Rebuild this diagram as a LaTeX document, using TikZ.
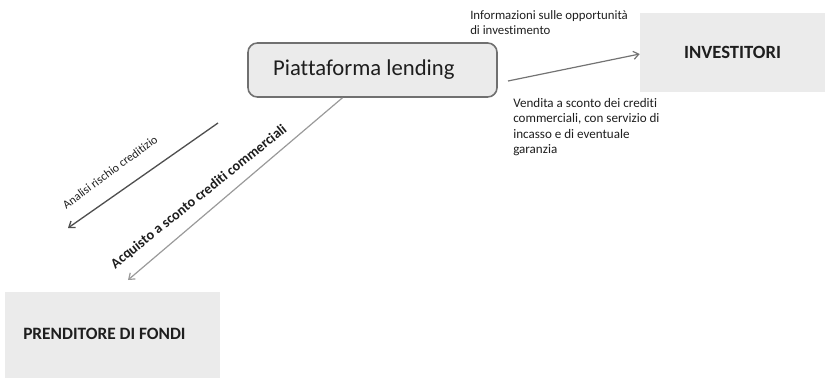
\documentclass[tikz,border=0pt]{standalone}
\usepackage{fontspec}
\setmainfont{Carlito}[Ligatures=NoCommon]
\usetikzlibrary{calc,arrows.meta}
\definecolor{boxfill}{HTML}{EBEBEB}
\definecolor{boxline}{HTML}{707070}
\definecolor{darkarrow}{HTML}{505050}
\definecolor{lightarrow}{HTML}{9A9A9A}
\definecolor{txt}{HTML}{1E1E1E}
\tikzset{
  platbox/.style={draw=boxline, line width=1.2pt, fill=boxfill, rounded corners=7pt, minimum width=186.75pt, minimum height=40.5pt, inner sep=0pt, font=\fontsize{17}{19}\selectfont, text=txt},
  flatbox/.style={fill=boxfill, draw=none, inner sep=0pt, text=txt},
  smalltxt/.style={font=\fontsize{9.6}{11.6}\selectfont, align=left, inner sep=0pt, text=txt},
  arrowdark/.style={draw=darkarrow, line width=1pt, -{Straight Barb[length=4pt,width=6pt]}},
  arrowlight/.style={draw=lightarrow, line width=0.9pt, -{Straight Barb[length=4pt,width=6pt]}},
}
\begin{document}
\begin{tikzpicture}[x=0.75pt,y=-0.75pt]
\useasboundingbox (0,0) rectangle (825,378);
% boxes
\node[platbox] (plat) at (372.5,70) {Piattaforma lending\hspace*{13pt}};
\node[flatbox, minimum width=138.75pt, minimum height=59.25pt, font=\bfseries\fontsize{14}{16}\selectfont] (inv) at (732.5,52.5) {INVESTITORI};
\node[flatbox, minimum width=161.25pt, minimum height=64.5pt] (pren) at (112.5,335) {};
\node[anchor=west, inner sep=0pt, font=\bfseries\fontsize{13}{15}\selectfont, text=txt] (prenlab) at (23,334) {PRENDITORE DI FONDI};
% coordinates
\coordinate (acqstart) at ($(plat.south west)!0.38!(plat.south east)$);
\coordinate (acqend) at (128,280);
\coordinate (anstart) at (218,123);
\coordinate (anend) at (68,228);
\coordinate (invstart) at (508,81);
% arrows
\draw[arrowlight] (acqstart) -- (acqend);
\draw[arrowdark] (anstart) -- (anend);
\draw[arrowlight, draw=darkarrow!80, line width=0.9pt] (invstart) -- (inv.west |- 0,54);
% labels
\node[smalltxt, anchor=north west] (infolab) at (470,10) {Informazioni sulle opportunità\\di investimento};
\node[smalltxt, anchor=north west, font=\fontsize{9.8}{11.6}\selectfont] (vendlab) at (513,98) {Vendita a sconto dei crediti\\commerciali, con servizio di\\incasso e di eventuale\\garanzia};
\node[inner sep=0pt, rotate=36.4, font=\fontsize{9}{10}\selectfont, text=txt] (anlab) at (110,172) {Analisi rischio creditizio};
\node[inner sep=0pt, rotate=38.7, font=\bfseries\fontsize{10.7}{12}\selectfont, text=txt] (acqlab) at (199,197) {Acquisto a sconto crediti commerciali};
\end{tikzpicture}
\end{document}
